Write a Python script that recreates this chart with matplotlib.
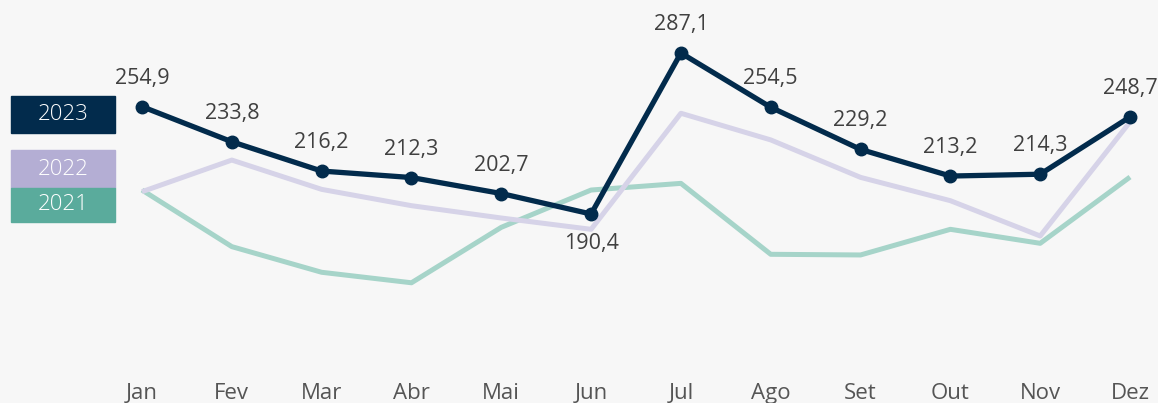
import matplotlib
matplotlib.use("Agg")
import matplotlib.pyplot as plt

months = ["Jan", "Fev", "Mar", "Abr", "Mai", "Jun", "Jul", "Ago", "Set", "Out", "Nov", "Dez"]
v2023 = [254.9, 233.8, 216.2, 212.3, 202.7, 190.4, 287.1, 254.5, 229.2, 213.2, 214.3, 248.7]
v2022 = [203.8, 222.8, 205.2, 195.4, 188.0, 181.2, 250.9, 234.9, 212.4, 198.4, 177.2, 245.7]
v2021 = [204.8, 170.8, 155.4, 149.1, 182.4, 204.8, 208.8, 166.2, 165.8, 181.2, 172.8, 212.6]
labels2023 = ["254,9", "233,8", "216,2", "212,3", "202,7", "190,4", "287,1", "254,5", "229,2", "213,2", "214,3", "248,7"]

plt.rcParams['font.family'] = ['Open Sans', 'DejaVu Sans']

W, H = 1158, 403
fig = plt.figure(figsize=(W / 100, H / 100), dpi=100)
bg = "#f7f7f7"
fig.patch.set_facecolor(bg)

ax_bottom_px = 373
ax = fig.add_axes([0, (H - ax_bottom_px) / H, 1, ax_bottom_px / H])
ax.set_facecolor(bg)

x = list(range(len(months)))
c23 = "#022b4c"
c22 = "#d6d3e8"
c21 = "#a6d4c9"

ax.plot(x, v2021, color=c21, lw=3.6, solid_capstyle="butt", zorder=2)
ax.plot(x, v2022, color=c22, lw=3.6, solid_capstyle="butt", zorder=3)
ax.plot(x, v2023, color=c23, lw=3.8, marker="o", markersize=9, zorder=4)

for i, (v, lab) in enumerate(zip(v2023, labels2023)):
    dy = -21 if i == 5 else 20.5
    ax.annotate(lab, (i, v), xytext=(0, dy), textcoords="offset points",
                ha="center", va="center", fontsize=15.5, color="#404040")

# pixel mapping
spacing = 89.82
x0 = 142
ax.set_xlim(-x0 / spacing, (W - x0) / spacing)
ppu = 1.665
ytop = 287.1 + 53 / ppu
ybot = 287.1 - (ax_bottom_px - 53) / ppu
ax.set_ylim(ybot, ytop)

ax.set_xticks(x)
ax.set_xticklabels(months, fontsize=16, color="#555555")
ax.tick_params(axis="x", length=0, pad=7)
ax.set_yticks([])
for s in ax.spines.values():
    s.set_visible(False)

# legend boxes
def box(y0, y1, color, text):
    fig.patches.append(plt.Rectangle((11 / W, 1 - y1 / H), 104 / W, (y1 - y0) / H,
                                     transform=fig.transFigure, color=color, zorder=5))
    fig.text(63 / W, 1 - (y0 + y1) / 2 / H, text, ha="center", va="center",
             color="white", fontsize=16, fontweight="light", zorder=6)

box(96, 133, "#022b4c", "2023")
box(150, 188, "#b4aed4", "2022")
box(188, 222, "#5aab9c", "2021")

fig.savefig("out.png", dpi=100, facecolor=bg)
